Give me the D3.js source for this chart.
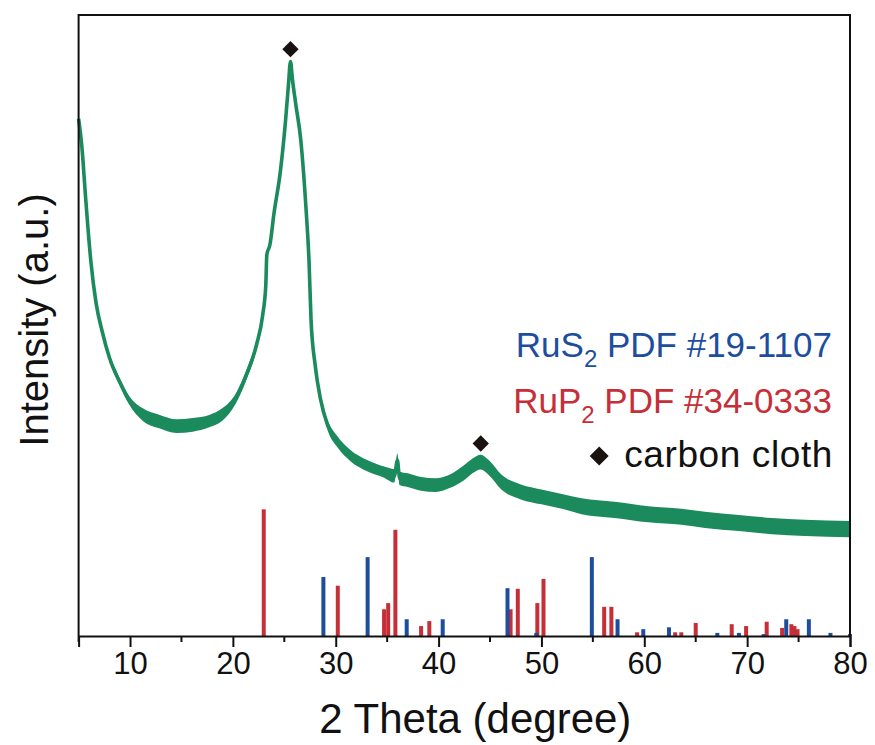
<!DOCTYPE html>
<html><head><meta charset="utf-8">
<script src="https://cdn.jsdelivr.net/npm/d3@7"></script>
<style>html,body{margin:0;padding:0;background:#fff;}</style>
</head><body>
<svg id="chart" width="875" height="745"></svg>
<script>
// XRD pattern (2θ in degrees, intensity a.u.)
const theta = [5.0,5.3,5.7,6.2,6.7,7.3,8.0,9.0,9.9,11.2,12.9,14.5,16.1,17.7,19.0,20.3,21.3,22.3,22.9,23.2,23.3,23.6,24.0,24.6,25.1,25.4,25.6,25.8,26.1,26.6,27.1,27.4,27.6,28.0,28.5,29.2,30.2,31.4,33.1,34.7,35.7,36.0,36.2,37.0,38.3,39.7,41.2,42.4,43.3,44.1,44.9,46.1,48.0,50.0,52.2,53.9,57.1,60.4,63.6,65.9,69.2,72.4,75.6,80.0];
const intensity = [833,791,702,602,536,490,448,409,380,357,345,338,340,346,357,383,420,469,517,565,614,630,681,746,826,887,925,895,858,799,691,605,509,436,383,340,312,291,274,264,258,283,254,251,245,243,250,262,274,280,271,248,232,224,216,209,203,196,192,187,182,177,174,172];
const noiseAmp = [5,5,5,5,5,5,6,6,7,10,11,11,11,10,10,8,8,7,3,2,2,2,2,2,2,2,2,2,2,2,2,2,2,2,3,8,9,9,9,9,11,11,11,11,11,11,11,12,12,12,12,12,12,12,12,13,13,13,13,13,13,13,13,13];

// RuS2 PDF #19-1107 reference lines
const rus2Pos = [28.8,33.1,36.9,40.4,46.7,49.5,54.9,57.4,59.9,62.4,67.1,69.2,71.6,73.8,76.0,78.1,80.0];
const rus2Int = [95,127,27,27,77,5,127,27,11,14,5,5,3,27,27,5,3];
// RuP2 PDF #34-0333 reference lines
const rup2Pos = [23.0,30.2,34.7,35.1,35.8,38.3,39.1,47.0,47.7,49.6,50.2,56.1,56.8,59.3,63.0,63.6,65.0,68.5,69.9,71.9,73.4,74.3,74.6,74.9];
const rup2Int = [204,81,43,53,171,16,24,43,76,53,92,47,47,6,6,6,21,19,16,23,13,19,16,11];

// carbon cloth peak markers
const carbonPeaks = [25.6, 44.1];
const carbonMarkY = [945, 310];

const xTicksMajor = [10,20,30,40,50,60,70,80];
const xTicksMinor = [5,15,25,35,45,55,65,75];

const legendLabels = [
  {main:"RuS", sub:"2", rest:" PDF #19-1107", color:"#1d4e9e"},
  {main:"RuP", sub:"2", rest:" PDF #34-0333", color:"#c62f38"}
];

const green = "#1b8a5d";
const blue = "#1d4e9e";
const red = "#c62f38";
const font = "'Liberation Sans', Arial, Helvetica, sans-serif";

const svg = d3.select("#chart");
const L = 78.6, R = 850, T = 15, B = 636;
const x = d3.scaleLinear().domain([5,80]).range([L,R]);
const y = d3.scaleLinear().domain([0,1000]).range([B,T]);

const data = theta.map((t,i)=>({t, v:intensity[i], a:noiseAmp[i]}));

// noise band
const area = d3.area().x(d=>x(d.t)).y0(d=>y(d.v-d.a)).y1(d=>y(d.v+d.a)).curve(d3.curveMonotoneX);
svg.append("path").datum(data).attr("d",area).attr("fill",green);
const line = d3.line().x(d=>x(d.t)).y(d=>y(d.v)).curve(d3.curveMonotoneX);
svg.append("path").datum(data).attr("d",line).attr("fill","none").attr("stroke",green).attr("stroke-width",3.6).attr("stroke-linejoin","round");

// reference bars
const barW = 4;
const rup = rup2Pos.map((p,i)=>({p,v:rup2Int[i]}));
const rus = rus2Pos.map((p,i)=>({p,v:rus2Int[i]}));
svg.append("g").selectAll("rect").data(rup).join("rect")
  .attr("x",d=>x(d.p)-barW/2).attr("width",barW)
  .attr("y",d=>y(d.v)).attr("height",d=>y(0)-y(d.v)).attr("fill",red);
svg.append("g").selectAll("rect").data(rus).join("rect")
  .attr("x",d=>x(d.p)-barW/2).attr("width",barW)
  .attr("y",d=>y(d.v)).attr("height",d=>y(0)-y(d.v)).attr("fill",blue);

// frame
svg.append("path").attr("d",`M${L},${B}V${T}H${R}V${B}`).attr("fill","none").attr("stroke","#111").attr("stroke-width",2);

// x axis
const ax = svg.append("g").attr("transform",`translate(0,${B})`)
  .call(d3.axisBottom(x).tickValues(xTicksMajor).tickSize(11).tickPadding(5).tickFormat(d3.format("d")));
ax.select(".domain").attr("stroke","#111").attr("stroke-width",2);
ax.selectAll(".tick line").attr("stroke","#111").attr("stroke-width",2);
ax.selectAll(".tick text").attr("font-family",font).attr("font-size",31).attr("fill","#111");
svg.append("g").selectAll("line").data(xTicksMinor).join("line")
  .attr("x1",d=>x(d)).attr("x2",d=>x(d)).attr("y1",B).attr("y2",B+6)
  .attr("stroke","#111").attr("stroke-width",2);

// axis titles
svg.append("text").attr("x",(L+R)/2 + 11).attr("y",733).attr("text-anchor","middle")
  .attr("font-family",font).attr("font-size",42).attr("fill","#111").text("2 Theta (degree)");
svg.append("text").attr("transform",`translate(48,320) rotate(-90)`).attr("text-anchor","middle")
  .attr("font-family",font).attr("font-size",40).attr("fill","#111").text("Intensity (a.u.)");

// carbon cloth markers
const diamond = d3.symbol().type(d3.symbolDiamond2).size(170);
svg.append("g").selectAll("path").data(carbonPeaks.map((p,i)=>({p,v:carbonMarkY[i]}))).join("path")
  .attr("transform",d=>`translate(${x(d.p)},${y(d.v)})`).attr("d",diamond).attr("fill","#1a1111");

// legend
const legY = [357, 413];
legendLabels.forEach((lg,i)=>{
  const t = svg.append("text").attr("x",832).attr("y",legY[i]).attr("text-anchor","end")
    .attr("font-family",font).attr("font-size",35).attr("fill",lg.color);
  t.append("tspan").text(lg.main);
  t.append("tspan").attr("font-size",24).attr("dy",10).text(lg.sub);
  t.append("tspan").attr("dy",-10).text(lg.rest);
});
const cc = svg.append("text").attr("x",833).attr("y",467).attr("text-anchor","end")
  .attr("font-family",font).attr("font-size",37).attr("letter-spacing",0.6).attr("fill","#111").text("carbon cloth");
const ccW = cc.node().getComputedTextLength();
svg.append("path").attr("transform",`translate(${833-ccW-25},456)`)
  .attr("d",d3.symbol().type(d3.symbolDiamond2).size(230)).attr("fill","#1a1111");
</script>
</body></html>
